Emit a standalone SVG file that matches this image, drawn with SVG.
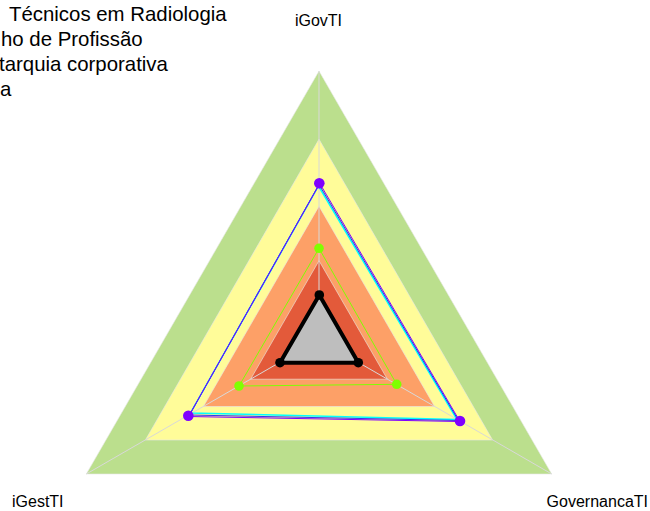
<svg xmlns="http://www.w3.org/2000/svg" width="650" height="511" viewBox="0 0 650 511">
<style>
text{font-family:"Liberation Sans",Arial,sans-serif;fill:#000}
.title{font-size:20.4px}
.lab{font-size:16px}
.band{stroke:#E8E8E8;stroke-width:1;stroke-opacity:0.6}
.axis{stroke:#D8D8D8;stroke-width:1;fill:none}
.pp{fill:#7F00FF}
.lp{fill:#80FF00}
.bp{fill:#000}
</style>
<rect width="650" height="511" fill="#fff"/>
<g id="title">
<text class="title" x="9" y="21">Técnicos em Radiologia</text>
<text class="title" x="1" y="46">ho de Profissão</text>
<text class="title" x="-1" y="71">tarquia corporativa</text>
<text class="title" x="0" y="96">a</text>
</g>
<g id="bands">
<polygon id="band-green" class="band" fill="#BBDF8D" points="319,71 86.3,474 551.7,474"/>
<polygon id="band-yellow" class="band" fill="#FFFC99" points="319,139.2 145.4,440 492.6,440"/>
<polygon id="band-lightorange" class="band" fill="#FDA067" points="319,206.2 203.4,406.5 434.6,406.5"/>
<polygon id="band-darkorange" class="band" fill="#E35A3A" points="319,260.7 250.6,379.2 387.4,379.2"/>
</g>
<g id="axes">
<line class="axis" x1="319" y1="339.7" x2="319" y2="71"/>
<line class="axis" x1="319" y1="339.7" x2="86.3" y2="474"/>
<line class="axis" x1="319" y1="339.7" x2="551.7" y2="474"/>
</g>
<g id="connectors">
<polygon fill="none" stroke="#00FFFF" stroke-width="1.5" points="318.5,186 190.5,413 457,419.5"/>
<polygon fill="none" stroke="#0000FF" stroke-width="0.8" points="319,184.5 189.5,415 458.5,420.5"/>
<polygon fill="none" stroke="#7F00FF" stroke-width="1" points="319.8,183.5 188.5,416.5 460,421.5"/>
<polygon fill="none" stroke="#80FF00" stroke-width="1" points="319,248.3 239,386 396.7,384.3"/>
<polygon fill="#BEBEBE" stroke="#000" stroke-width="4" stroke-linejoin="round" points="319.3,295 280,362.7 358.3,362.7"/>
</g>
<g id="series-purple">
<circle class="pp" cx="319.3" cy="183.3" r="5.3"/>
<circle class="pp" cx="188.3" cy="415.7" r="5.3"/>
<circle class="pp" cx="460" cy="421" r="5.3"/>
</g>
<g id="series-lime">
<circle class="lp" cx="319" cy="248.3" r="4.8"/>
<circle class="lp" cx="239" cy="386" r="4.8"/>
<circle class="lp" cx="396.7" cy="384.3" r="4.8"/>
</g>
<g id="series-black">
<circle class="bp" cx="319.3" cy="295" r="4.8"/>
<circle class="bp" cx="280" cy="362.7" r="4.8"/>
<circle class="bp" cx="358.3" cy="362.7" r="4.8"/>
</g>
<g id="label-igovti"><text class="lab" x="318.5" y="26" text-anchor="middle">iGovTI</text></g>
<g id="label-igestti"><text class="lab" x="12" y="507">iGestTI</text></g>
<g id="label-governancati"><text class="lab" x="648" y="507" text-anchor="end">GovernancaTI</text></g>
</svg>
